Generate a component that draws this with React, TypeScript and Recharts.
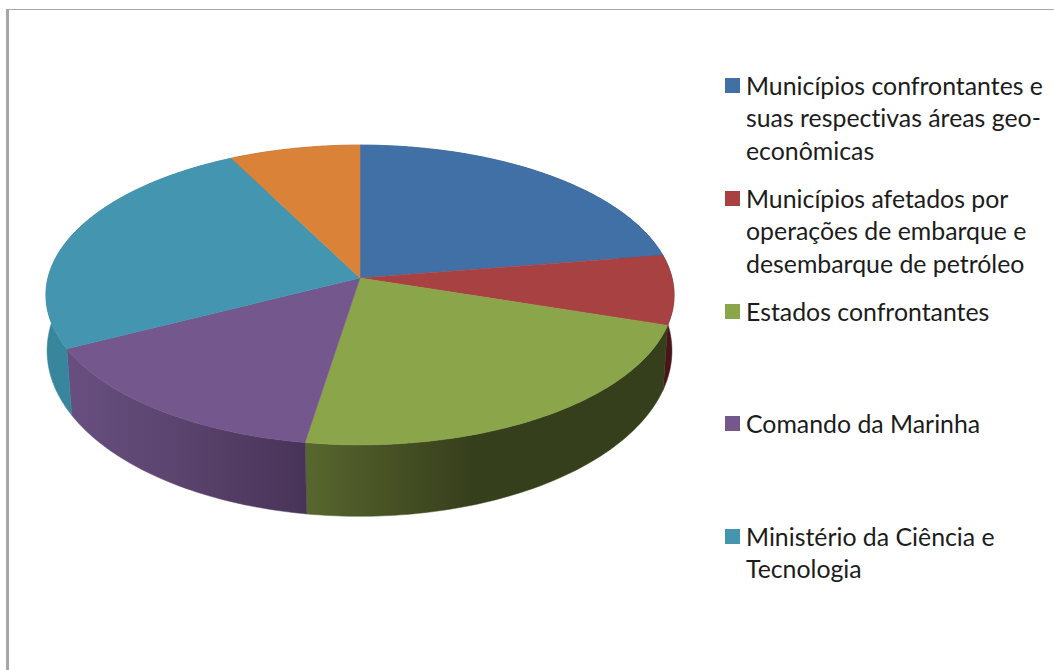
import { Legend, Pie, PieChart } from 'recharts';

// Royalty shares, clockwise from twelve o'clock
const sliceNames = [
  'Municípios confrontantes e suas respectivas áreas geo-econômicas',
  'Municípios afetados por operações de embarque e desembarque de petróleo',
  'Estados confrontantes',
  'Comando da Marinha',
  'Ministério da Ciência e Tecnologia',
  'Fundo Especial',
];
const sliceValues = [22.5, 7.5, 22.5, 15, 25, 7.5];

const legendLines = [
  ['Municípios confrontantes e', 'suas respectivas áreas geo-', 'econômicas'],
  ['Municípios afetados por', 'operações de embarque e', 'desembarque de petróleo'],
  ['Estados confrontantes'],
  ['Comando da Marinha'],
  ['Ministério da Ciência e', 'Tecnologia'],
];

const topColors = ['#4170a7', '#a84242', '#8ba54b', '#74578c', '#4496b0', '#d98238'];
const wallStops = [
  [['0', '#2f5278']],
  [['0', '#4a1518']],
  [['0', '#58672f'], ['0.26', '#454f23'], ['0.46', '#363f1c'], ['1', '#363f1c']],
  [['0', '#684f80'], ['0.45', '#5b446e'], ['1', '#483358']],
  [['0', '#37869b']],
  [['0', '#a05c24']],
];

const pieData = sliceNames.map((name, i) => ({ name, value: sliceValues[i] }));

const CHART_W = 1054;
const CHART_H = 670;
const CX = 360;
const CY = 278;
const RADIUS = 313;

// Perspective of the upper face and of the lower rim of the disc
const TOP = { cx: CX, cy: CY, sx: 0.997, sy: 0.4728, k: 0.1133 };
const BOTTOM = { cx: 359.5, cy: 337.5, sx: 0.995, sy: 0.5256, k: 0.08 };

function project(deg: number, face: typeof TOP) {
  const rad = (deg * Math.PI) / 180;
  const u = Math.cos(rad);
  const v = Math.sin(rad);
  const d = 1 + face.k * v;
  return [face.cx + (RADIUS * face.sx * u) / d, face.cy - (RADIUS * face.sy * v) / d];
}

function arc(start: number, end: number, face: typeof TOP) {
  const steps = Math.max(2, Math.ceil(Math.abs(end - start)));
  const pts: number[][] = [];
  for (let i = 0; i <= steps; i++) {
    pts.push(project(start + ((end - start) * i) / steps, face));
  }
  return pts;
}

const toPath = (pts: number[][]) =>
  'M' + pts.map((p) => `${p[0].toFixed(2)},${p[1].toFixed(2)}`).join('L') + 'Z';

function TopFace({ startAngle, endAngle, index }: any) {
  const fill = topColors[index];
  const d = toPath([[CX, CY], ...arc(startAngle, endAngle, TOP)]);
  return <path d={d} fill={fill} stroke={fill} strokeWidth={0.5} />;
}

function SideWall({ startAngle, endAngle, index }: any) {
  const id = `wall-${index}`;
  const upper = arc(startAngle, endAngle, TOP);
  const lower = arc(startAngle, endAngle, BOTTOM).reverse();
  return (
    <g>
      <defs>
        <linearGradient id={id} x1="0" y1="0" x2="1" y2="0">
          {wallStops[index].map(([offset, color]) => (
            <stop key={offset} offset={offset} stopColor={color} />
          ))}
        </linearGradient>
      </defs>
      <path
        d={toPath([...upper, ...lower])}
        fill={`url(#${id})`}
        stroke={`url(#${id})`}
        strokeWidth={0.5}
      />
    </g>
  );
}

function LegendBlock() {
  return (
    <div style={{ position: 'relative', width: CHART_W, height: CHART_H }}>
      {legendLines.map((lines, i) => (
        <div
          key={lines[0]}
          style={{ position: 'absolute', left: 724, top: 70 + i * 112.75 }}
        >
          <span
            style={{
              position: 'absolute',
              left: 1,
              top: 8,
              width: 15,
              height: 15,
              background: topColors[i],
            }}
          />
          {lines.map((line) => (
            <div
              key={line}
              style={{
                position: 'relative',
                top: -1,
                marginLeft: 22,
                height: 32.4,
                lineHeight: '32.4px',
                whiteSpace: 'nowrap',
                fontFamily: 'Lato, sans-serif',
                fontSize: 24.85,
                fontVariantLigatures: 'none',
                color: '#1c1c1c',
              }}
            >
              {line}
            </div>
          ))}
        </div>
      ))}
    </div>
  );
}

export default function App() {
  return (
    <div
      style={{
        position: 'absolute',
        left: 0,
        top: 0,
        width: CHART_W,
        height: CHART_H,
        overflow: 'hidden',
        background: '#fff',
      }}
    >
      <div
        style={{
          position: 'absolute',
          left: 6,
          top: 9,
          right: 0,
          bottom: 0,
          borderLeft: '3px solid #a6a6a6',
          borderTop: '1px solid #a8a8a8',
        }}
      />
      <PieChart
        width={CHART_W}
        height={CHART_H}
        margin={{ top: 0, right: 0, bottom: 0, left: 0 }}
      >
        <Legend
          layout="vertical"
          align="right"
          verticalAlign="top"
          wrapperStyle={{ left: 0, top: 0, width: CHART_W, height: CHART_H }}
          content={<LegendBlock />}
        />
        <Pie
          data={pieData}
          dataKey="value"
          nameKey="name"
          cx={CX}
          cy={CY}
          outerRadius={RADIUS}
          startAngle={90}
          endAngle={-270}
          legendType="none"
          stroke="none"
          shape={SideWall}
          isAnimationActive={false}
        />
        <Pie
          data={pieData}
          dataKey="value"
          nameKey="name"
          cx={CX}
          cy={CY}
          outerRadius={RADIUS}
          startAngle={90}
          endAngle={-270}
          legendType="none"
          stroke="none"
          shape={TopFace}
          isAnimationActive={false}
        />
      </PieChart>
    </div>
  );
}
